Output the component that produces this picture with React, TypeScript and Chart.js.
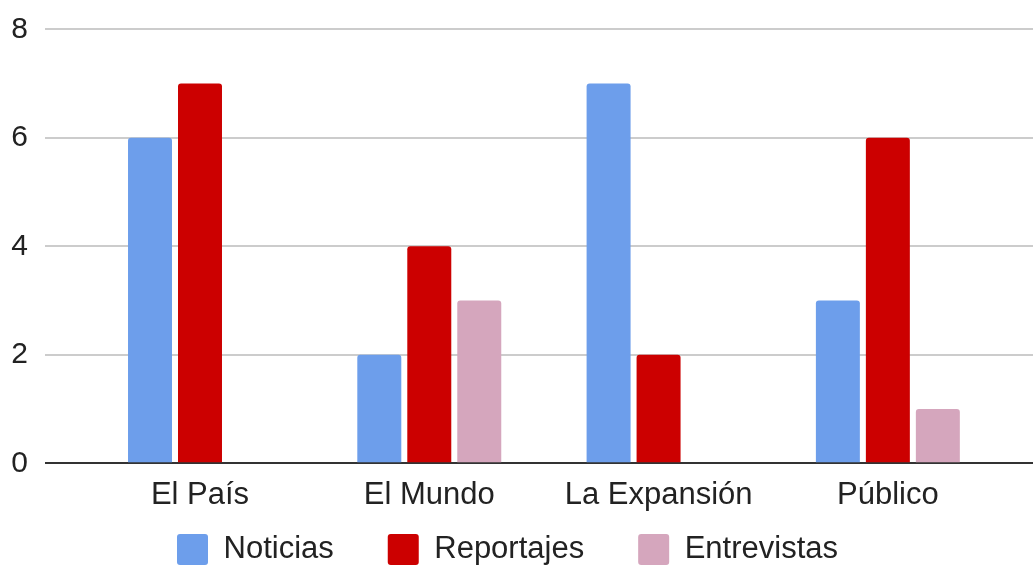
import React, { useEffect, useRef } from "react";
import { Chart, registerables } from "chart.js";

Chart.register(...registerables);

const categories = ["El País", "El Mundo", "La Expansión", "Público"];
const noticias = [6, 2, 7, 3];
const reportajes = [7, 4, 2, 6];
const entrevistas = [0, 3, 0, 1];
const seriesNames = ["Noticias", "Reportajes", "Entrevistas"];
const seriesColors = ["#6d9eeb", "#cc0000", "#d5a6bd"];
const yTicks = [0, 2, 4, 6, 8];

const FONT = "'Liberation Sans', Arial, sans-serif";

export default function App() {
  const ref = useRef<HTMLCanvasElement>(null);

  useEffect(() => {
    document.body.style.margin = "0";
    const toPoints = (arr: number[]) => arr.map((y, i) => ({ x: i, y }));
    const chart = new Chart(ref.current as HTMLCanvasElement, {
      type: "bar",
      data: {
        datasets: [noticias, reportajes, entrevistas].map((d, k) => ({
          label: seriesNames[k],
          data: toPoints(d),
          backgroundColor: seriesColors[k],
          borderWidth: 0,
          borderRadius: 3,
          borderSkipped: "start",
          categoryPercentage: 0.654,
          barPercentage: 0.88,
        })),
      },
      options: {
        animation: false,
        responsive: false,
        layout: { padding: { top: 29.3, left: 0, right: 0, bottom: 0 } },
        plugins: {
          legend: {
            position: "bottom",
            labels: {
              boxWidth: 31,
              boxHeight: 31,
              padding: 54,
              color: "#222",
              font: { family: FONT, size: 31 },
              useBorderRadius: true,
              borderRadius: 3,
            },
          },
          tooltip: { enabled: false },
        },
        scales: {
          x: {
            type: "linear",
            offset: false,
            min: -0.676,
            max: 3.633,
            grid: { display: false, offset: false },
            border: { display: false },
            afterBuildTicks: (s: any) => {
              s.ticks = categories.map((_, i) => ({ value: i }));
            },
            afterFit: (s: any) => {
              s.height = 16.7;
            },
            ticks: {
              autoSkip: false,
              maxRotation: 0,
              mirror: true,
              crossAlign: "far",
              padding: -32,
              color: "#222",
              font: { family: FONT, size: 31 },
              callback: (v: any) => categories[v as number] ?? "",
            },
          },
          y: {
            min: 0,
            max: 8,
            afterBuildTicks: (s: any) => {
              s.ticks = yTicks.map((v) => ({ value: v }));
            },
            afterFit: (s: any) => {
              s.width = 63;
            },
            grid: {
              color: (c: any) => (c.tick && c.tick.value === 0 ? "#333" : "#ccc"),
              lineWidth: 2,
              drawTicks: false,
            },
            border: { display: false },
            ticks: {
              padding: 17,
              color: "#222",
              font: { family: FONT, size: 30, lineHeight: 0.6 },
            },
          },
        },
      },
    } as any);
    return () => chart.destroy();
  }, []);

  return (
    <div style={{ position: "relative", width: 1033, height: 565, overflow: "hidden" }}>
      <canvas
        ref={ref}
        width={1051}
        height={575}
        style={{ position: "absolute", left: -18, top: 0 }}
      />
    </div>
  );
}
